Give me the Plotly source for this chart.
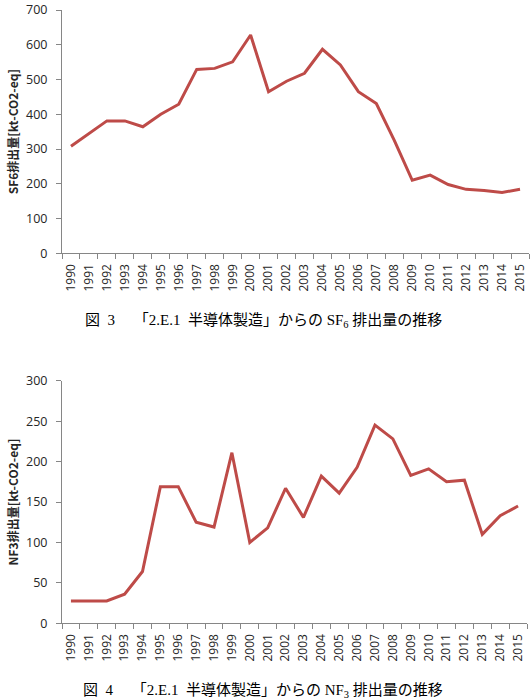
import plotly.graph_objects as go

years = [str(y) for y in range(1990, 2016)]
sf6 = [308, 345, 381, 381, 364, 400, 429, 529, 532, 551, 628,
       465, 495, 518, 587, 542, 465, 431, 325, 210, 225, 198, 184, 181, 175, 184]
nf3 = [27.6, 27.6, 27.6, 36, 64, 169, 169, 125, 119, 211, 100,
       118, 167, 131, 182, 161, 193, 245, 228, 183, 191, 175, 177, 110, 133, 145]

sf6_ticks = [0, 100, 200, 300, 400, 500, 600, 700]
nf3_ticks = [0, 50, 100, 150, 200, 250, 300]

W, H = 532, 699
LINE = "#BE4B48"
AX = "#868686"

fig = go.Figure()
fig.add_trace(go.Scatter(x=years, y=sf6, mode="lines", line=dict(color=LINE, width=3),
                         xaxis="x", yaxis="y", showlegend=False))
fig.add_trace(go.Scatter(x=years, y=nf3, mode="lines", line=dict(color=LINE, width=3),
                         xaxis="x2", yaxis="y2", showlegend=False))

def py(p):
    return 1 - p / H

xcommon = dict(type="category", tickangle=-90, showline=True, linecolor=AX, linewidth=1,
               ticks="outside", tickson="boundaries", ticklen=5, tickcolor=AX,
               range=[-0.5, len(years) - 0.5], ticklabelstandoff=5,
               showgrid=False, zeroline=False, automargin=False,
               tickfont=dict(family="Open Sans, Liberation Sans, sans-serif", size=12, color="#262626"))
ycommon = dict(showline=True, linecolor=AX, linewidth=1, ticks="outside", ticklen=5,
               tickcolor=AX, showgrid=False, zeroline=False, automargin=False,
               ticklabelstandoff=6,
               tickfont=dict(family="Open Sans, Liberation Sans, sans-serif", size=12.5, color="#262626"))

fig.update_layout(
    width=W, height=H,
    margin=dict(l=0, r=0, t=0, b=0),
    paper_bgcolor="white", plot_bgcolor="white",
    xaxis=dict(domain=[62 / W, 529 / W], anchor="y", **xcommon),
    yaxis=dict(domain=[py(253.3), py(10)], anchor="x", range=[0, 700], tickvals=sf6_ticks,
               title=dict(text="<b>SF6排出量[kt-CO2-eq]</b>", standoff=4,
                          font=dict(family="Noto Sans CJK JP", size=12, color="#262626")),
               **ycommon),
    xaxis2=dict(domain=[62 / W, 527 / W], anchor="y2", **xcommon),
    yaxis2=dict(domain=[py(623.3), py(380.7)], anchor="x2", range=[0, 300], tickvals=nf3_ticks,
                title=dict(text="<b>NF3排出量[kt-CO2-eq]</b>", standoff=4,
                           font=dict(family="Noto Sans CJK JP", size=12, color="#262626")),
                **ycommon),
)

cap_font = dict(family="Liberation Serif, Noto Sans CJK JP, serif", size=15, color="black")
fig.add_annotation(x=263 / W, y=py(321), xref="paper", yref="paper", showarrow=False,
                   text="図  3　 「2.E.1  半導体製造」からの SF<sub>6</sub> 排出量の推移",
                   font=cap_font, xanchor="center", yanchor="middle")
fig.add_annotation(x=263 / W, y=py(691), xref="paper", yref="paper", showarrow=False,
                   text="図  4　 「2.E.1  半導体製造」からの NF<sub>3</sub> 排出量の推移",
                   font=cap_font, xanchor="center", yanchor="middle")

fig.write_html("out.html")
